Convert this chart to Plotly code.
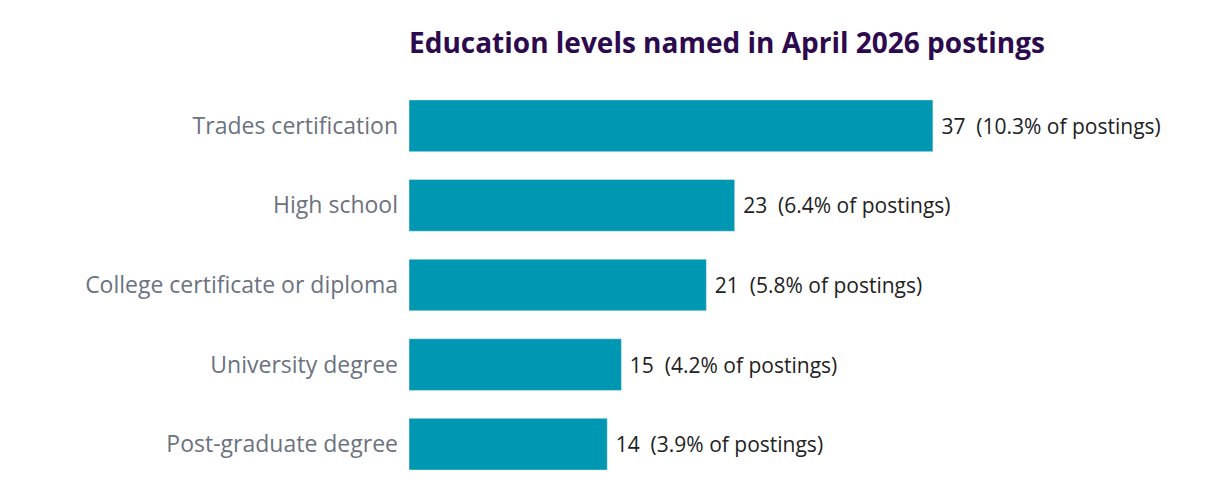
import plotly.graph_objects as go

categories = ["Trades certification", "High school", "College certificate or diploma",
              "University degree", "Post-graduate degree"]
counts = [37, 23, 21, 15, 14]
shares = [10.3, 6.4, 5.8, 4.2, 3.9]

labels = [f" {c}  ({s}% of postings)" for c, s in zip(counts, shares)]

fig = go.Figure(go.Bar(
    x=counts, y=categories, orientation="h",
    marker_color="#0097b2", width=0.65,
    text=labels, textposition="outside", cliponaxis=False,
    textfont=dict(size=21, color="#222222", family="Open Sans"),
))
fig.update_layout(
    width=1211, height=500, plot_bgcolor="white", paper_bgcolor="white",
    margin=dict(l=401, r=102, t=78, b=24, autoexpand=False),
    font=dict(family="Open Sans"),
    title=dict(text="<b>Education levels named in April 2026 postings</b>",
               x=401/1211, xanchor="left", y=0.93, yanchor="middle",
               font=dict(size=28, color="#2d0a4e", family="Open Sans", weight=800)),
    xaxis=dict(range=[0, 50], visible=False, automargin=False),
    yaxis=dict(autorange="reversed", showgrid=False, ticks="", automargin=False,
               tickfont=dict(size=23, color="#6b7280"), ticklabelstandoff=10),
    showlegend=False,
)
fig.write_html("out.html")
